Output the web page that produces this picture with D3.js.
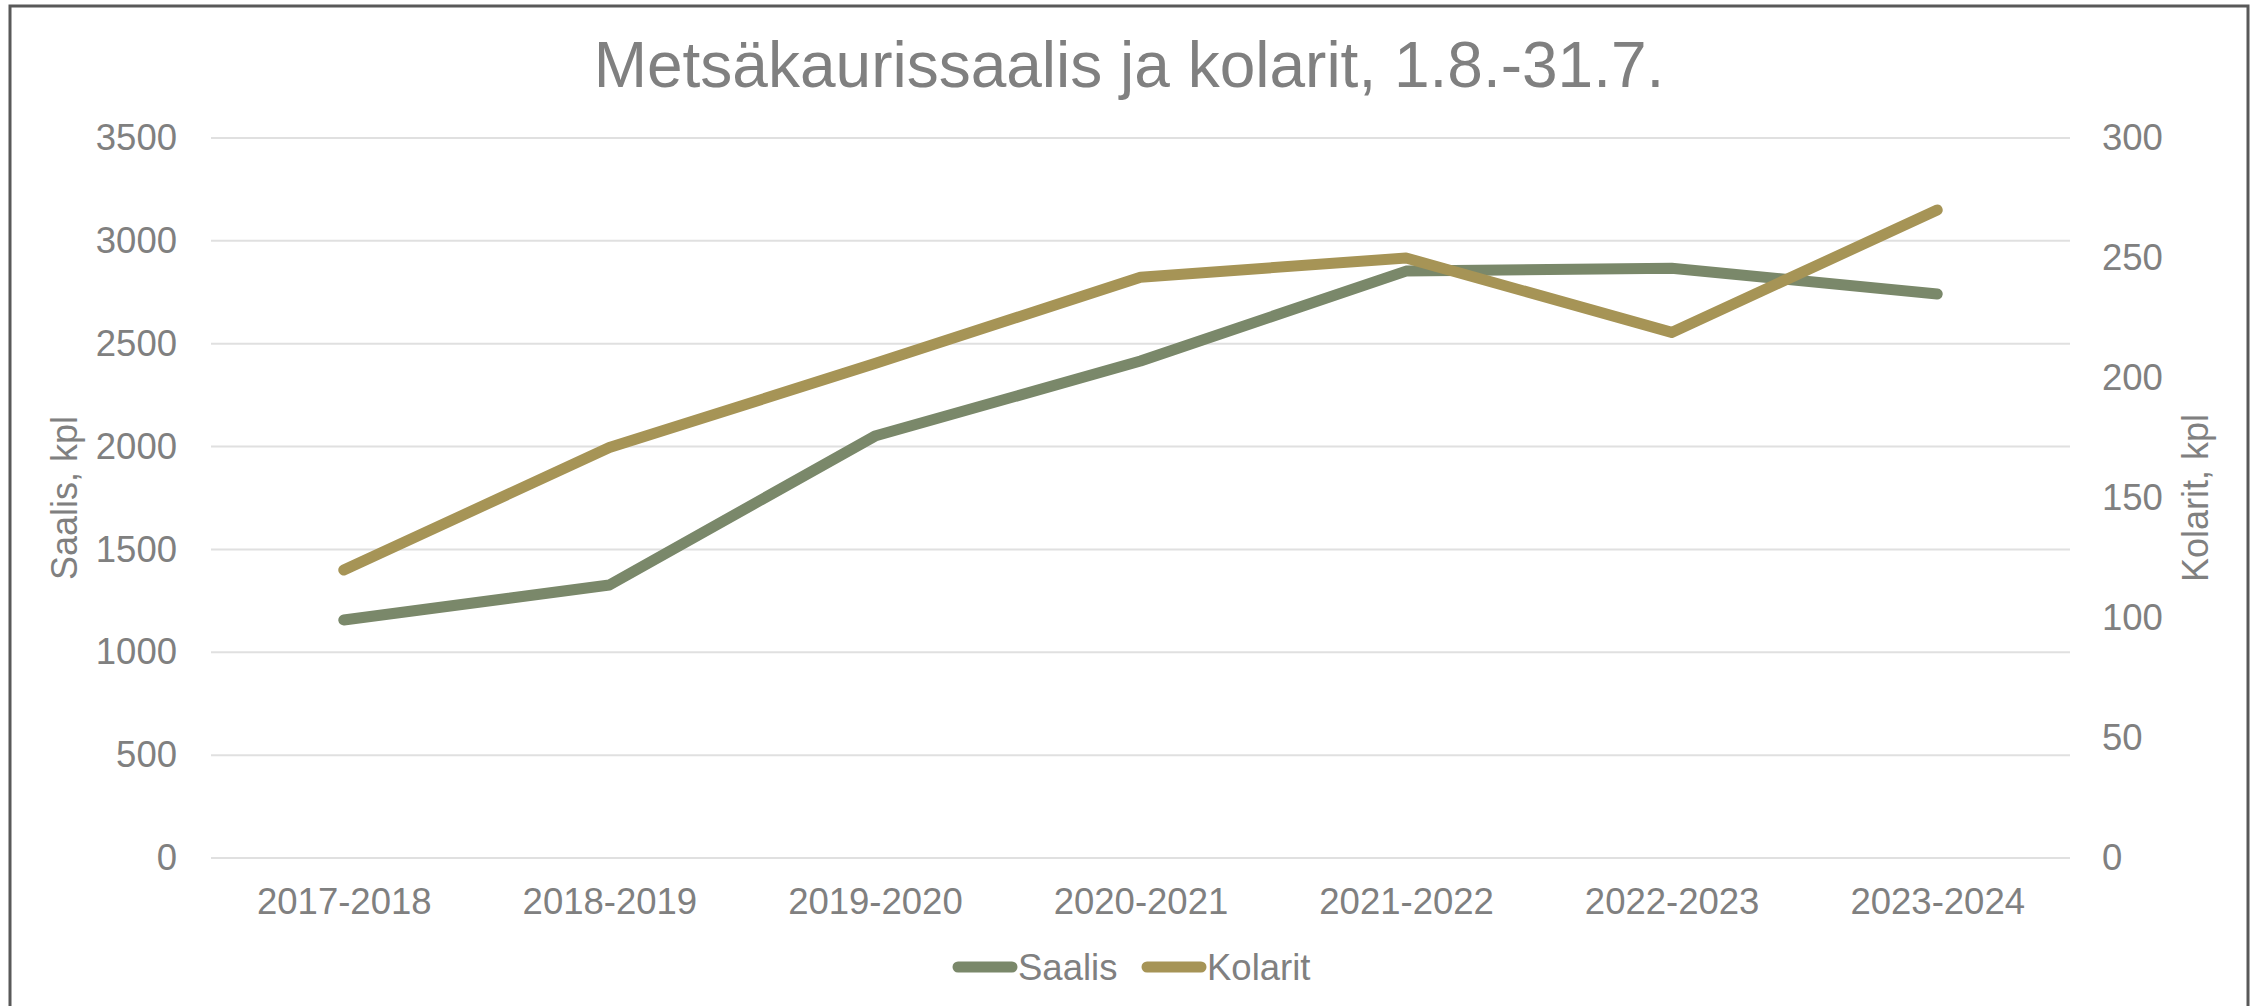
<!DOCTYPE html>
<html>
<head>
<meta charset="utf-8">
<script src="https://cdn.jsdelivr.net/npm/d3@7"></script>
<style>
  body { margin: 0; background: #ffffff; }
  svg { display: block; }
  text { font-family: "Liberation Sans", Arial, sans-serif; fill: #808080; }
</style>
</head>
<body>
<svg id="chart" width="2257" height="1006"></svg>
<script>
// data
var seasons = ["2017-2018", "2018-2019", "2019-2020", "2020-2021", "2021-2022", "2022-2023", "2023-2024"];
var saalis = [1157, 1327, 2051, 2416, 2853, 2867, 2742];
var kolarit = [120, 171, 206, 242, 250, 219, 270];
var leftTicks = [0, 500, 1000, 1500, 2000, 2500, 3000, 3500];
var rightTicks = [0, 50, 100, 150, 200, 250, 300];

var plot = { left: 211, right: 2070, top: 138, bottom: 858 };
var tickFont = "36.5px";

var svg = d3.select("#chart");

// outer frame
svg.append("rect")
    .attr("x", 10).attr("y", 6)
    .attr("width", 2238).attr("height", 1010)
    .attr("fill", "none")
    .attr("stroke", "#595959")
    .attr("stroke-width", 3);

var x = d3.scalePoint().domain(seasons).range([plot.left, plot.right]).padding(0.5);
var yL = d3.scaleLinear().domain([0, 3500]).range([plot.bottom, plot.top]);
var yR = d3.scaleLinear().domain([0, 300]).range([plot.bottom, plot.top]);

// grid
svg.append("g").selectAll("line")
    .data(leftTicks)
    .enter().append("line")
    .attr("x1", plot.left).attr("x2", plot.right)
    .attr("y1", function(d) { return yL(d); })
    .attr("y2", function(d) { return yL(d); })
    .attr("stroke", "#e0e0e0")
    .attr("stroke-width", 2);

function styleAxis(g) {
    g.select(".domain").remove();
    g.selectAll("text").style("font-size", tickFont).attr("fill", "#808080")
        .style("font-family", "Liberation Sans, Arial, sans-serif");
}

// left axis
svg.append("g")
    .attr("transform", "translate(" + plot.left + ",0)")
    .call(d3.axisLeft(yL).tickValues(leftTicks).tickFormat(d3.format("d")).tickSize(0).tickPadding(34))
    .call(styleAxis);

// right axis
svg.append("g")
    .attr("transform", "translate(" + plot.right + ",0)")
    .call(d3.axisRight(yR).tickValues(rightTicks).tickFormat(d3.format("d")).tickSize(0).tickPadding(32))
    .call(styleAxis);

// bottom axis
svg.append("g")
    .attr("transform", "translate(0," + plot.bottom + ")")
    .call(d3.axisBottom(x).tickSize(0).tickPadding(30))
    .call(styleAxis);

// lines
var lineL = d3.line()
    .x(function(d, i) { return x(seasons[i]); })
    .y(function(d) { return yL(d); });
var lineR = d3.line()
    .x(function(d, i) { return x(seasons[i]); })
    .y(function(d) { return yR(d); });

svg.append("path")
    .datum(saalis)
    .attr("d", lineL)
    .attr("fill", "none")
    .attr("stroke", "#7a886a")
    .attr("stroke-width", 11)
    .attr("stroke-linecap", "round")
    .attr("stroke-linejoin", "round");

svg.append("path")
    .datum(kolarit)
    .attr("d", lineR)
    .attr("fill", "none")
    .attr("stroke", "#a69456")
    .attr("stroke-width", 11)
    .attr("stroke-linecap", "round")
    .attr("stroke-linejoin", "round");

// title
svg.append("text")
    .attr("x", 1129).attr("y", 87)
    .attr("text-anchor", "middle")
    .style("font-size", "64px")
    .text("Metsäkaurissaalis ja kolarit, 1.8.-31.7.");

// axis titles
svg.append("text")
    .attr("transform", "translate(77,498) rotate(-90)")
    .attr("text-anchor", "middle")
    .style("font-size", "36px")
    .text("Saalis, kpl");

svg.append("text")
    .attr("transform", "translate(2208,498) rotate(-90)")
    .attr("text-anchor", "middle")
    .style("font-size", "36px")
    .text("Kolarit, kpl");

// legend
var legend = [
    { name: "Saalis", color: "#7a886a", x: 958 },
    { name: "Kolarit", color: "#a69456", x: 1147 }
];
var lg = svg.append("g").selectAll("g")
    .data(legend)
    .enter().append("g");
lg.append("line")
    .attr("x1", function(d) { return d.x; })
    .attr("x2", function(d) { return d.x + 54; })
    .attr("y1", 967).attr("y2", 967)
    .attr("stroke", function(d) { return d.color; })
    .attr("stroke-width", 11)
    .attr("stroke-linecap", "round");
lg.append("text")
    .attr("x", function(d) { return d.x + 60; })
    .attr("y", 980)
    .style("font-size", tickFont)
    .text(function(d) { return d.name; });
</script>
</body>
</html>
